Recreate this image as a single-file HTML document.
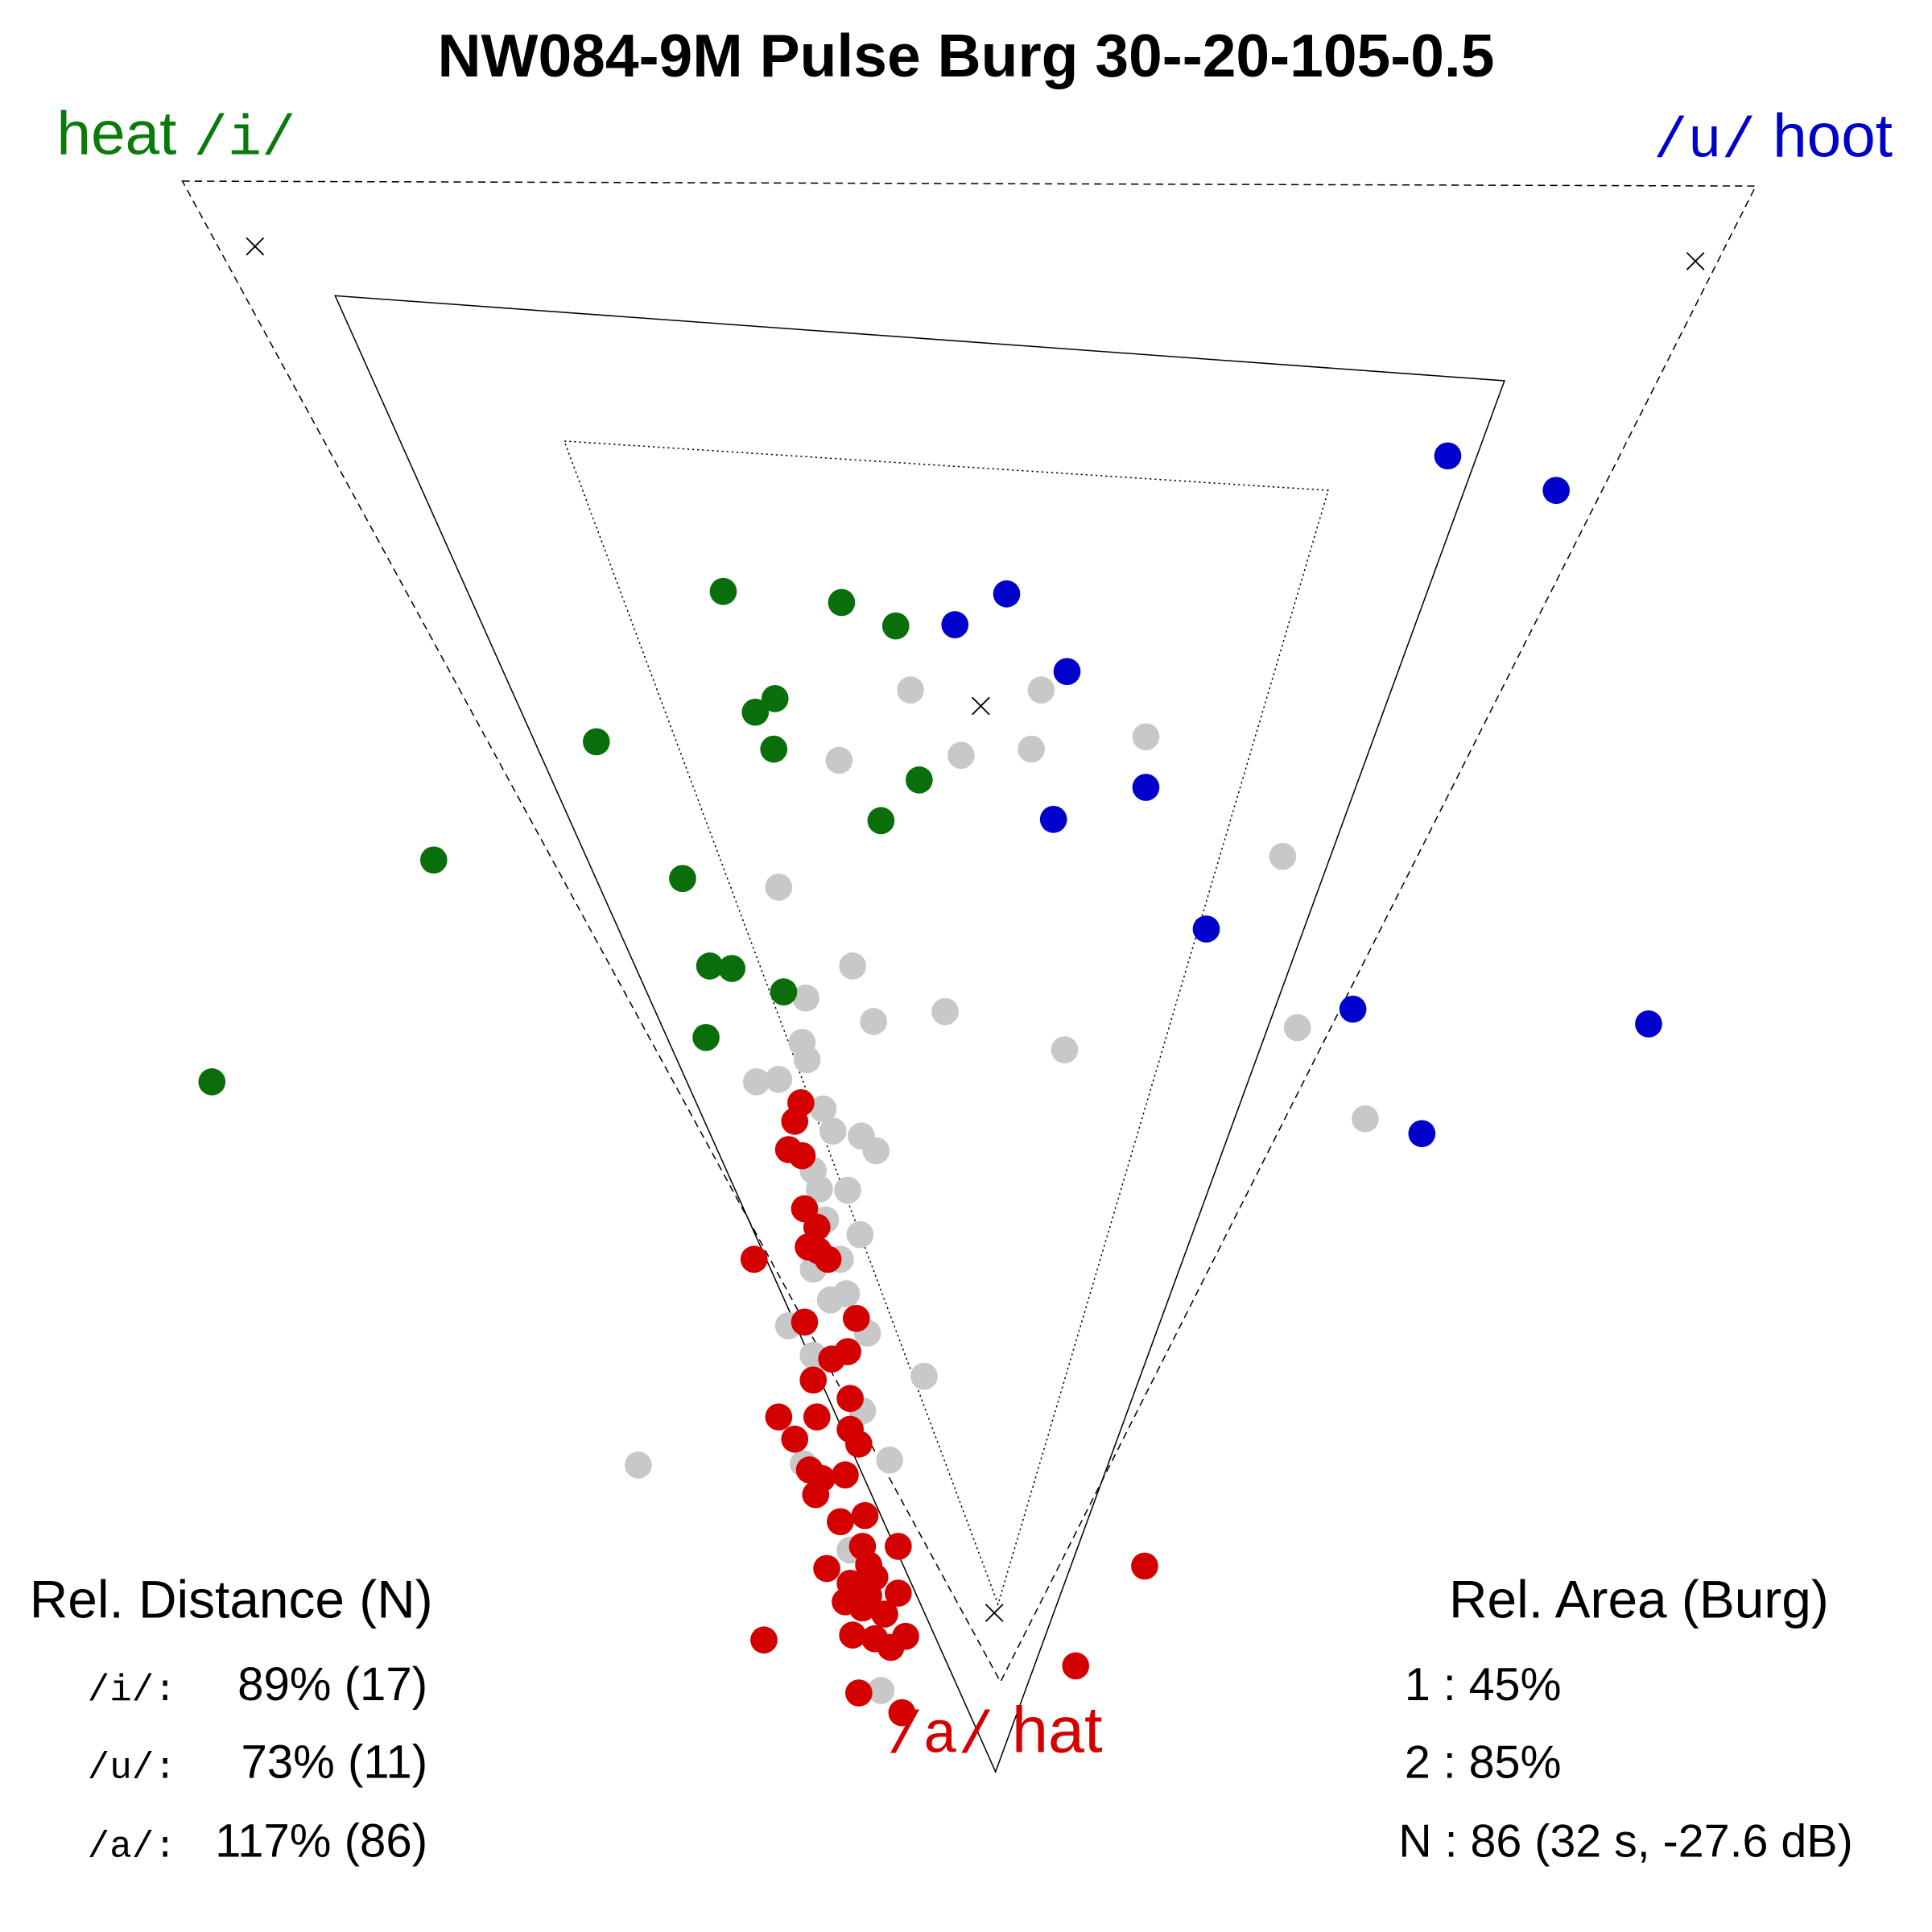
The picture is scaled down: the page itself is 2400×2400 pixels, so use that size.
<!DOCTYPE html>
<html><head><meta charset="utf-8"><style>html,body{margin:0;padding:0;background:#fff}svg{display:block}</style></head><body>
<svg width="2400" height="2400" viewBox="0 0 1568 1568" xmlns="http://www.w3.org/2000/svg" font-family="Liberation Sans, sans-serif">
<text x="784" y="62" text-anchor="middle" font-size="49" font-weight="bold">NW084-9M Pulse Burg 30--20-105-0.5</text>
<text x="46" y="125" font-size="50" fill="#0a7a0a">heat <tspan font-family="Liberation Mono, monospace" font-size="46">/i/</tspan></text>
<text x="1536" y="127" font-size="50" fill="#0000cc" text-anchor="end"><tspan font-family="Liberation Mono, monospace" font-size="46">/u/</tspan> hoot</text>
<polygon points="148,147 1425,151 812,1365" fill="none" stroke="#000" stroke-width="1" stroke-dasharray="6,4"/>
<polygon points="272,240 1221,309 808,1438" fill="none" stroke="#000" stroke-width="1"/>
<polygon points="458,358 1078,398 810,1302" fill="none" stroke="#000" stroke-width="1" stroke-dasharray="1.5,2.5"/>
<g stroke="#000" stroke-width="1.2">
<path d="M200,193l14,14M214,193l-14,14"/><path d="M1369,205l14,14M1383,205l-14,14"/><path d="M789,566l14,14M803,566l-14,14"/><path d="M800,1302l14,14M814,1302l-14,14"/>
</g>
<g fill="#c8c8c8">
<circle cx="739" cy="560" r="11"/><circle cx="845" cy="560" r="11"/><circle cx="930" cy="598" r="11"/><circle cx="681" cy="617" r="11"/><circle cx="780" cy="613" r="11"/><circle cx="837" cy="608" r="11"/><circle cx="1041" cy="695" r="11"/><circle cx="632" cy="720" r="11"/><circle cx="692" cy="784" r="11"/><circle cx="654" cy="810" r="11"/><circle cx="709" cy="829" r="11"/><circle cx="767" cy="821" r="11"/><circle cx="651" cy="846" r="11"/><circle cx="655" cy="860" r="11"/><circle cx="864" cy="852" r="11"/><circle cx="1053" cy="834" r="11"/><circle cx="614" cy="878" r="11"/><circle cx="632" cy="876" r="11"/><circle cx="668" cy="900" r="11"/><circle cx="676" cy="918" r="11"/><circle cx="699" cy="922" r="11"/><circle cx="711" cy="934" r="11"/><circle cx="1108" cy="908" r="11"/><circle cx="660" cy="950" r="11"/><circle cx="688" cy="966" r="11"/><circle cx="670" cy="990" r="11"/><circle cx="698" cy="1002" r="11"/><circle cx="682" cy="1022" r="11"/><circle cx="674" cy="1055" r="11"/><circle cx="687" cy="1050" r="11"/><circle cx="640" cy="1076" r="11"/><circle cx="704" cy="1082" r="11"/><circle cx="660" cy="1100" r="11"/><circle cx="750" cy="1117" r="11"/><circle cx="700" cy="1145" r="11"/><circle cx="722" cy="1185" r="11"/><circle cx="518" cy="1189" r="11"/><circle cx="652" cy="1188" r="11"/><circle cx="690" cy="1258" r="11"/><circle cx="715" cy="1372" r="11"/><circle cx="660" cy="1030" r="11"/><circle cx="665" cy="965" r="11"/>
</g>
<g fill="#0a6e0a">
<circle cx="587" cy="480" r="11"/><circle cx="683" cy="489" r="11"/><circle cx="727" cy="508" r="11"/><circle cx="629" cy="567" r="11"/><circle cx="613" cy="578" r="11"/><circle cx="628" cy="608" r="11"/><circle cx="484" cy="602" r="11"/><circle cx="746" cy="633" r="11"/><circle cx="715" cy="666" r="11"/><circle cx="352" cy="698" r="11"/><circle cx="554" cy="713" r="11"/><circle cx="576" cy="784" r="11"/><circle cx="594" cy="786" r="11"/><circle cx="636" cy="805" r="11"/><circle cx="573" cy="842" r="11"/><circle cx="172" cy="878" r="11"/>
</g>
<g fill="#0000cc">
<circle cx="1175" cy="370" r="11"/><circle cx="1263" cy="398" r="11"/><circle cx="817" cy="482" r="11"/><circle cx="775" cy="507" r="11"/><circle cx="866" cy="545" r="11"/><circle cx="930" cy="639" r="11"/><circle cx="855" cy="665" r="11"/><circle cx="979" cy="754" r="11"/><circle cx="1098" cy="819" r="11"/><circle cx="1338" cy="831" r="11"/><circle cx="1154" cy="920" r="11"/>
</g>
<g fill="#d40000">
<circle cx="650" cy="895" r="11"/><circle cx="645" cy="910" r="11"/><circle cx="640" cy="933" r="11"/><circle cx="651" cy="938" r="11"/><circle cx="653" cy="981" r="11"/><circle cx="663" cy="996" r="11"/><circle cx="656" cy="1012" r="11"/><circle cx="672" cy="1022" r="11"/><circle cx="612" cy="1022" r="11"/><circle cx="664" cy="1015" r="11"/><circle cx="653" cy="1073" r="11"/><circle cx="695" cy="1070" r="11"/><circle cx="688" cy="1097" r="11"/><circle cx="675" cy="1103" r="11"/><circle cx="660" cy="1120" r="11"/><circle cx="690" cy="1135" r="11"/><circle cx="632" cy="1150" r="11"/><circle cx="663" cy="1150" r="11"/><circle cx="645" cy="1168" r="11"/><circle cx="690" cy="1160" r="11"/><circle cx="697" cy="1172" r="11"/><circle cx="686" cy="1197" r="11"/><circle cx="657" cy="1193" r="11"/><circle cx="667" cy="1200" r="11"/><circle cx="662" cy="1213" r="11"/><circle cx="682" cy="1235" r="11"/><circle cx="702" cy="1230" r="11"/><circle cx="729" cy="1255" r="11"/><circle cx="700" cy="1255" r="11"/><circle cx="671" cy="1273" r="11"/><circle cx="705" cy="1270" r="11"/><circle cx="690" cy="1285" r="11"/><circle cx="710" cy="1280" r="11"/><circle cx="686" cy="1300" r="11"/><circle cx="729" cy="1293" r="11"/><circle cx="700" cy="1305" r="11"/><circle cx="718" cy="1310" r="11"/><circle cx="692" cy="1327" r="11"/><circle cx="710" cy="1330" r="11"/><circle cx="735" cy="1328" r="11"/><circle cx="723" cy="1337" r="11"/><circle cx="620" cy="1331" r="11"/><circle cx="929" cy="1271" r="11"/><circle cx="873" cy="1352" r="11"/><circle cx="697" cy="1374" r="11"/><circle cx="732" cy="1390" r="11"/><circle cx="705" cy="1295" r="11"/><circle cx="695" cy="1290" r="11"/>
</g>
<text x="720" y="1422" font-size="53" fill="#d40000"><tspan font-family="Liberation Mono, monospace" font-size="48">/a/</tspan> hat</text>
<text x="24" y="1313" font-size="43">Rel. Distance (N)</text>
<g font-family="Liberation Mono, monospace" text-anchor="end" font-size="30"><text x="143" y="1380">/i/:</text><text x="143" y="1443">/u/:</text><text x="143" y="1507">/a/:</text></g>
<g text-anchor="end" font-size="38"><text x="347" y="1380">89% (17)</text><text x="347" y="1443">73% (11)</text><text x="347" y="1507">117% (86)</text></g>
<text x="1176" y="1313" font-size="43">Rel. Area (Burg)</text>
<g font-size="37.5"><text x="1140" y="1380">1 : 45%</text><text x="1140" y="1443">2 : 85%</text><text x="1135" y="1507">N : 86 (32 s, -27.6 dB)</text></g>
</svg>
</body></html>
